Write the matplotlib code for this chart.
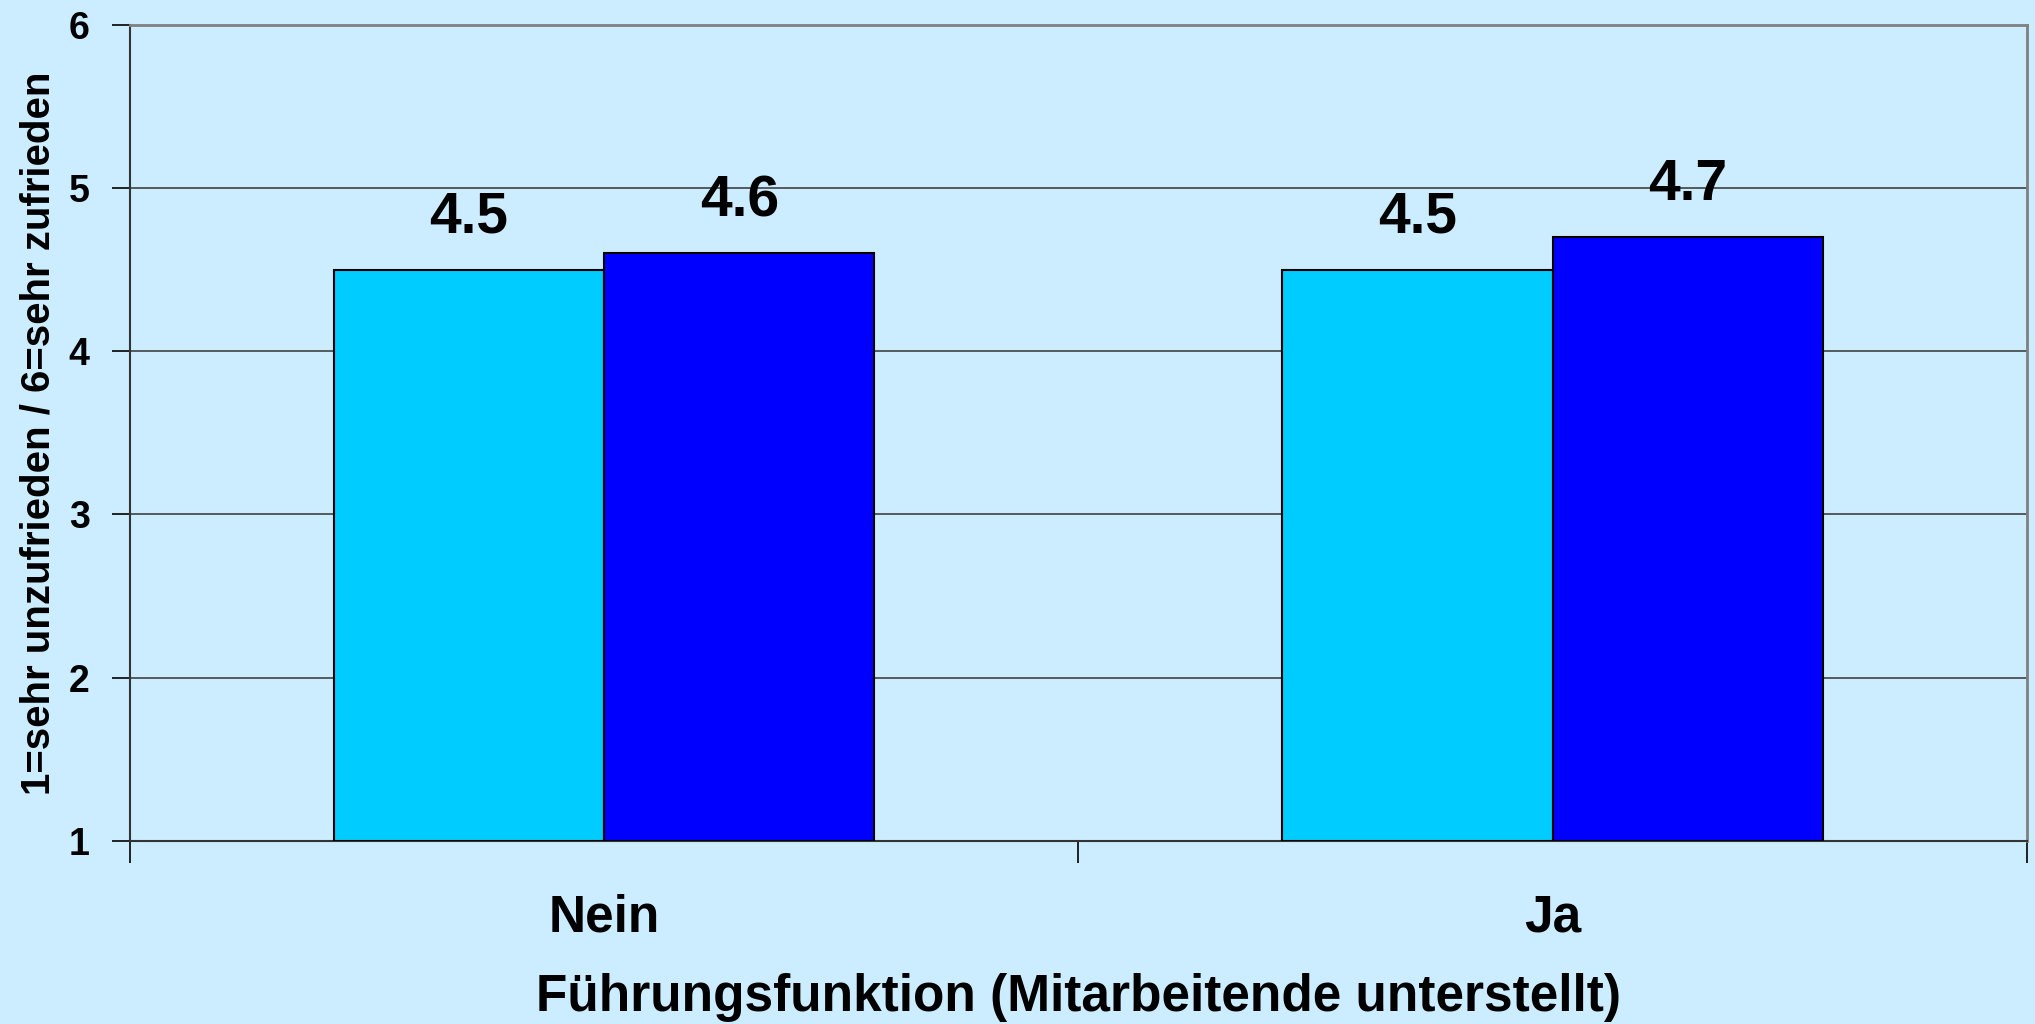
import matplotlib.pyplot as plt
import numpy as np

plt.rcParams['font.family'] = ['Liberation Sans', 'DejaVu Sans']
plt.rcParams['font.weight'] = 'bold'

categories = ['Nein', 'Ja']
series_a = [4.5, 4.5]   # hellblau
series_b = [4.6, 4.7]   # dunkelblau
y_min, y_max = 1, 6
y_ticks = [1, 2, 3, 4, 5, 6]

bg = '#CCECFF'
fig = plt.figure(figsize=(20.35, 10.24), dpi=100, facecolor=bg)
ax = fig.add_axes([0.0639, 0.1787, 0.932, 0.7972], facecolor=bg)

x = np.arange(len(categories))
w = 0.285
bars_a = ax.bar(x - w / 2, np.array(series_a) - y_min, w, bottom=y_min,
                color='#00CCFF', edgecolor='black', linewidth=1.5, zorder=3)
bars_b = ax.bar(x + w / 2, np.array(series_b) - y_min, w, bottom=y_min,
                color='#0000FF', edgecolor='black', linewidth=1.5, zorder=3)

for bars, vals in [(bars_a, series_a), (bars_b, series_b)]:
    ax.bar_label(bars, labels=[f'{v:.1f}' for v in vals], padding=18,
                 fontsize=41, fontweight='bold')

ax.set_ylim(y_min, y_max)
ax.set_yticks(y_ticks)
ax.set_xlim(-0.5, len(categories) - 0.5)
ax.yaxis.grid(True, color='#333333', linewidth=1.1, zorder=0)

ax.set_xticks(np.arange(len(categories) + 1) - 0.5)
ax.set_xticklabels([])
ax.set_xticks(x, minor=True)
ax.set_xticklabels(categories, minor=True, fontsize=37, fontweight='bold')
ax.tick_params(axis='x', which='major', length=16, width=1.2, direction='out')
ax.tick_params(axis='x', which='minor', length=0, pad=38)
ax.tick_params(axis='y', length=13, width=1.2, direction='out', labelsize=27, pad=16)

for s in ['left', 'bottom']:
    ax.spines[s].set_color('#333333')
    ax.spines[s].set_linewidth(1.5)
for s in ['top', 'right']:
    ax.spines[s].set_color('#808080')
    ax.spines[s].set_linewidth(2)

ax.set_xlabel('Führungsfunktion (Mitarbeitende unterstellt)', fontsize=37,
              fontweight='bold', labelpad=22)
ax.set_ylabel('1=sehr unzufrieden / 6=sehr zufrieden', fontsize=29,
              fontweight='bold', labelpad=8)

fig.savefig('out.png', dpi=100, facecolor=bg)
